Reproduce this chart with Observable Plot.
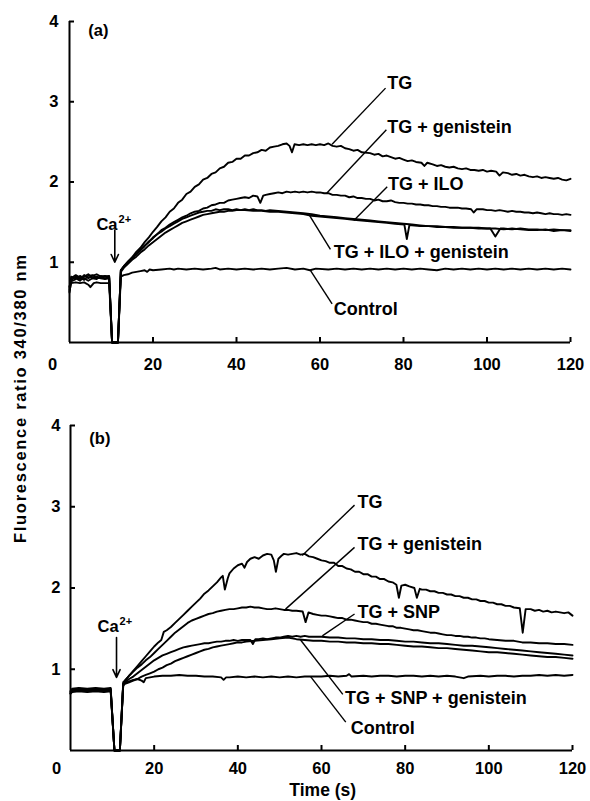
<!DOCTYPE html>
<html><head><meta charset="utf-8">
<script src="https://cdn.jsdelivr.net/npm/d3@7"></script>
<script src="https://cdn.jsdelivr.net/npm/@observablehq/plot@0.6"></script>
<style>
body{margin:0;background:#fff;}
#wrap{position:relative;width:590px;height:801px;overflow:hidden;background:#fff;}
#wrap > svg{display:block;}
</style></head><body><div id="wrap"></div>
<script>
// ---------- Panel (a) data: [time (s), fluorescence ratio] ----------
const aTG = [[0,0.62],[0.4,0.78],[1.5,0.82],[2.5,0.79],[3.5,0.84],[4.5,0.8],[5.5,0.83],[6.5,0.85],[7.5,0.82],[8.5,0.83],[9.5,0.82],[10.2,0],[11.6,0],[12.3,0.9],[13,0.95],[14,1.01],[15,1.06],[16,1.13],[17,1.18],[18,1.25],[19,1.31],[20,1.38],[21,1.44],[22,1.51],[23,1.56],[24,1.63],[25,1.67],[26,1.74],[27,1.78],[28,1.85],[29,1.88],[30,1.94],[31,1.97],[32,2.03],[33,2.05],[34,2.1],[35,2.12],[36,2.17],[37,2.19],[38,2.24],[39,2.25],[40,2.29],[41,2.29],[42,2.33],[43,2.33],[44,2.36],[45,2.37],[46,2.4],[47,2.39],[48,2.43],[49,2.44],[50,2.45],[51,2.47],[52,2.48],[52.7,2.45],[53.3,2.37],[53.9,2.47],[55,2.46],[56,2.47],[57,2.46],[58,2.47],[59,2.46],[60,2.47],[61,2.46],[62,2.48],[63,2.45],[64,2.44],[65,2.45],[66,2.42],[67,2.41],[68,2.39],[69,2.4],[70,2.37],[72,2.36],[73,2.34],[74,2.35],[75,2.32],[76,2.33],[77,2.31],[78,2.29],[79,2.3],[80,2.28],[81,2.26],[82,2.27],[83,2.25],[84.3,2.24],[85,2.2],[85.7,2.24],[87,2.22],[88,2.2],[89,2.21],[90,2.19],[91,2.18],[92,2.19],[93,2.17],[94,2.16],[95,2.17],[96,2.15],[97,2.15],[98,2.14],[99,2.15],[100,2.13],[101,2.14],[102.2,2.13],[103,2.08],[103.8,2.12],[105,2.11],[106,2.09],[107,2.1],[108,2.08],[109,2.09],[110,2.07],[111,2.06],[112,2.07],[113,2.05],[114,2.06],[115,2.05],[116,2.04],[117,2.05],[118,2.03],[119,2.02],[120,2.04]];
const aTGgen = [[0,0.66],[0.4,0.8],[1.5,0.84],[2.5,0.81],[3.5,0.78],[4.5,0.83],[5.5,0.84],[6.5,0.8],[7.5,0.81],[8.5,0.8],[9.5,0.81],[10.2,0],[11.6,0],[12.3,0.9],[13,0.94],[14,0.99],[15,1.05],[16,1.1],[17,1.16],[18,1.21],[19,1.25],[20,1.31],[21,1.35],[22,1.4],[23,1.43],[24,1.47],[25,1.5],[26,1.53],[27,1.56],[28,1.58],[29,1.61],[30,1.63],[31,1.64],[32,1.67],[33,1.68],[34,1.71],[35,1.72],[36,1.74],[37,1.74],[38,1.77],[39,1.78],[40,1.79],[41,1.8],[42,1.81],[43,1.8],[44,1.83],[45,1.82],[45.7,1.74],[46.4,1.83],[47,1.84],[48,1.85],[49,1.86],[50,1.87],[51,1.86],[52,1.88],[53,1.87],[54,1.88],[55,1.87],[56,1.88],[57,1.87],[58,1.88],[59,1.87],[60,1.87],[61,1.86],[62,1.86],[63,1.84],[64,1.84],[65,1.83],[66,1.83],[67,1.81],[68,1.82],[69,1.8],[70,1.8],[71,1.79],[72,1.79],[73,1.77],[74,1.78],[75,1.76],[76,1.76],[77,1.77],[78,1.75],[79,1.74],[80,1.74],[81,1.73],[82,1.73],[83,1.72],[84,1.72],[85,1.71],[86,1.71],[87,1.7],[88,1.7],[89,1.69],[90,1.69],[91,1.68],[92,1.68],[93,1.68],[94,1.67],[95,1.67],[96.2,1.66],[96.8,1.62],[97.5,1.66],[99,1.66],[100,1.65],[101,1.65],[102,1.64],[103,1.65],[104,1.64],[105,1.63],[106,1.64],[107,1.63],[108,1.63],[109,1.62],[110,1.62],[111,1.61],[112,1.62],[113,1.61],[114,1.6],[115,1.61],[116,1.6],[117,1.6],[118,1.59],[119,1.6],[120,1.59]];
const aILO = [[0,0.7],[0.4,0.76],[1.5,0.79],[2.5,0.83],[3.5,0.8],[4.5,0.77],[5.5,0.8],[6.5,0.82],[7.5,0.8],[8.5,0.79],[9.5,0.8],[10.2,0],[11.6,0],[12.3,0.88],[13,0.93],[14,0.98],[15,1.03],[16,1.07],[17,1.12],[18,1.16],[19,1.21],[20,1.25],[21,1.29],[22,1.33],[23,1.37],[24,1.4],[25,1.43],[26,1.46],[27,1.49],[28,1.51],[29,1.53],[30,1.55],[31,1.57],[32,1.59],[33,1.6],[34,1.61],[35,1.62],[36,1.63],[37,1.63],[38,1.64],[39,1.64],[40,1.65],[42,1.65],[44,1.64],[46,1.64],[48,1.63],[50,1.63],[52,1.62],[54,1.61],[56,1.6],[58,1.58],[60,1.57],[62,1.56],[64,1.55],[66,1.54],[68,1.53],[70,1.52],[72,1.51],[74,1.5],[76,1.49],[78,1.48],[80.2,1.47],[80.8,1.29],[81.4,1.46],[82,1.46],[84,1.45],[86,1.45],[88,1.44],[90,1.44],[92,1.43],[94,1.43],[96,1.43],[98,1.42],[100.8,1.42],[102,1.32],[103.2,1.42],[104,1.42],[106,1.41],[108,1.42],[110,1.41],[112,1.41],[114,1.4],[116,1.41],[118,1.4],[120,1.4]];
const aILOgen = [[0,0.68],[0.4,0.82],[1.5,0.8],[2.5,0.77],[3.5,0.82],[4.5,0.85],[5.5,0.8],[6.5,0.79],[7.5,0.83],[8.5,0.82],[9.5,0.83],[10.2,0],[11.6,0],[12.3,0.9],[13,0.95],[14,1.0],[15,1.06],[16,1.1],[17,1.15],[18,1.2],[19,1.26],[20,1.3],[21,1.35],[22,1.38],[23,1.42],[24,1.45],[25,1.48],[26,1.51],[27,1.54],[28,1.56],[29,1.58],[30,1.6],[31,1.62],[32,1.63],[33,1.64],[34,1.64],[35,1.66],[36,1.65],[37,1.66],[38,1.66],[39,1.65],[40,1.66],[41,1.65],[42,1.66],[43,1.65],[44,1.66],[45,1.65],[46,1.65],[47,1.64],[48,1.65],[50,1.64],[52,1.63],[54,1.62],[56,1.61],[58,1.6],[60,1.58],[62,1.57],[64,1.56],[66,1.55],[68,1.54],[70,1.53],[72,1.52],[74,1.51],[76,1.5],[78,1.49],[80,1.48],[82,1.47],[84,1.46],[86,1.45],[88,1.45],[90,1.44],[92,1.44],[94,1.43],[96,1.43],[98,1.43],[100,1.42],[102,1.42],[104,1.41],[106,1.42],[108,1.41],[110,1.4],[112,1.4],[114,1.41],[116,1.39],[118,1.4],[120,1.39]];
const aCtrl = [[0,0.64],[0.4,0.74],[1.5,0.75],[2.5,0.74],[3.5,0.75],[4.5,0.72],[5,0.69],[5.8,0.74],[6.5,0.75],[7.5,0.74],[8.5,0.74],[9.5,0.74],[10.2,0],[11.6,0],[12.3,0.82],[13,0.84],[14,0.85],[15,0.87],[16,0.88],[17,0.89],[18,0.9],[18.6,0.88],[19.2,0.91],[20,0.9],[22,0.91],[24,0.92],[25,0.91],[26,0.92],[28,0.91],[30,0.92],[32,0.91],[34,0.92],[35,0.93],[36,0.91],[38,0.92],[40,0.91],[42,0.92],[44,0.91],[46,0.92],[48,0.91],[50,0.92],[52,0.93],[54,0.91],[56,0.92],[57.6,0.9],[59,0.92],[62,0.91],[64,0.92],[66,0.91],[68,0.92],[70,0.91],[72,0.92],[74,0.91],[76,0.92],[78,0.91],[80,0.92],[82,0.91],[84,0.92],[86,0.91],[88,0.9],[90,0.92],[92,0.91],[94,0.92],[96,0.91],[98,0.92],[100,0.91],[102,0.92],[104,0.91],[106,0.92],[108,0.91],[110,0.92],[112,0.91],[114,0.92],[116,0.91],[118,0.92],[120,0.91]];

// ---------- Panel (b) data ----------
const bTG = [[0,0.7],[0.4,0.75],[2,0.76],[4,0.75],[6,0.76],[8,0.75],[9.6,0.76],[10.5,0],[11.8,0],[12.6,0.82],[13,0.86],[14,0.92],[15,0.98],[16,1.04],[17,1.1],[18,1.16],[19,1.22],[20,1.28],[21,1.33],[21.7,1.36],[22.3,1.46],[23,1.48],[24,1.52],[25,1.57],[26,1.62],[27,1.67],[28,1.72],[29,1.77],[30,1.82],[31,1.87],[32,1.93],[33,1.97],[34,2.02],[35,2.07],[36,2.13],[36.4,2.15],[36.9,1.98],[37.6,2.12],[38,2.18],[39,2.24],[40,2.28],[41,2.3],[41.6,2.25],[42.2,2.32],[43,2.36],[44,2.38],[45,2.36],[46,2.4],[47,2.42],[48,2.41],[48.6,2.34],[49.1,2.2],[49.7,2.36],[50.5,2.4],[51,2.42],[52,2.41],[53,2.42],[54,2.43],[55,2.41],[56,2.42],[57,2.39],[58,2.38],[59,2.36],[60,2.34],[61,2.33],[62,2.31],[63,2.31],[64,2.27],[65,2.27],[66,2.24],[67,2.23],[68,2.2],[69,2.2],[70,2.17],[71,2.17],[72,2.14],[73,2.14],[74,2.11],[75,2.11],[76,2.08],[77,2.07],[77.9,2.04],[78.5,1.88],[79.1,2.03],[80,2.04],[81,2.02],[82.2,2.0],[82.8,1.88],[83.5,1.99],[84,1.98],[85,1.98],[86,1.96],[87,1.96],[88,1.94],[89,1.94],[90,1.92],[91,1.92],[92,1.9],[93,1.9],[94,1.88],[95,1.88],[96,1.86],[97,1.86],[98,1.84],[99,1.84],[100,1.82],[101,1.82],[102,1.8],[103,1.8],[104,1.78],[105,1.78],[106,1.76],[107.4,1.75],[108.1,1.45],[108.8,1.74],[110,1.74],[111,1.72],[112,1.73],[113,1.71],[114,1.72],[115,1.7],[116,1.71],[117,1.7],[118,1.69],[119,1.7],[120,1.66]];
const bTGgen = [[0,0.72],[0.4,0.76],[2,0.77],[4,0.76],[6,0.77],[8,0.76],[9.6,0.77],[10.5,0],[11.8,0],[12.6,0.84],[13,0.86],[14,0.92],[15,0.97],[16,1.02],[17,1.06],[18,1.11],[19,1.15],[20,1.2],[21,1.25],[22,1.3],[23,1.35],[24,1.4],[25,1.45],[26,1.49],[27,1.53],[28,1.57],[29,1.6],[30,1.62],[31,1.64],[32,1.66],[33,1.68],[34,1.69],[35,1.71],[36,1.72],[37,1.73],[38,1.74],[39,1.74],[40,1.75],[41,1.76],[42,1.76],[43,1.77],[44,1.76],[45,1.76],[46,1.75],[47,1.74],[48,1.74],[49,1.75],[50,1.74],[51,1.73],[52,1.73],[53,1.72],[54,1.72],[55.5,1.71],[56.2,1.58],[56.9,1.7],[58,1.68],[59,1.67],[60,1.66],[61,1.66],[62,1.65],[63,1.64],[64,1.63],[65,1.63],[66,1.61],[67,1.61],[68,1.6],[69,1.59],[70,1.58],[71,1.58],[72,1.56],[73,1.56],[74,1.55],[75,1.54],[76,1.53],[77,1.53],[78,1.51],[79,1.51],[80,1.5],[81,1.49],[82,1.48],[83,1.48],[84,1.47],[85,1.46],[86,1.45],[87,1.45],[88,1.44],[89,1.43],[90,1.42],[91,1.42],[92,1.41],[93,1.41],[94,1.4],[95,1.4],[96,1.39],[97,1.39],[98,1.38],[99,1.38],[100,1.37],[102,1.36],[104,1.35],[106,1.35],[108,1.33],[110,1.33],[112,1.32],[114,1.32],[116,1.31],[118,1.31],[120,1.3]];
const bSNP = [[0,0.73],[0.4,0.74],[2,0.75],[4,0.74],[6,0.75],[8,0.74],[9.6,0.75],[10.5,0],[11.8,0],[12.6,0.82],[13,0.84],[14,0.88],[15,0.91],[16,0.95],[17,0.99],[18,1.03],[19,1.07],[20,1.11],[21,1.14],[22,1.17],[23,1.19],[24,1.21],[25,1.23],[26,1.25],[27,1.27],[28,1.28],[29,1.29],[30,1.3],[31,1.31],[32,1.32],[33,1.32],[34,1.33],[35,1.34],[36,1.34],[37,1.35],[38,1.35],[39,1.36],[40,1.35],[41,1.36],[42,1.36],[43,1.36],[43.6,1.31],[44.2,1.37],[45,1.37],[46,1.38],[47,1.37],[48,1.38],[49,1.39],[50,1.39],[51,1.4],[52,1.41],[53,1.4],[54,1.41],[55,1.4],[56,1.41],[57,1.4],[58,1.4],[60,1.4],[62,1.39],[64,1.39],[66,1.38],[68,1.38],[70,1.37],[72,1.37],[74,1.36],[76,1.36],[78,1.35],[80,1.34],[82,1.34],[84,1.33],[86,1.32],[88,1.32],[90,1.31],[92,1.3],[94,1.29],[96,1.29],[98,1.28],[100,1.27],[102,1.26],[104,1.25],[106,1.24],[108,1.23],[110,1.22],[112,1.21],[114,1.2],[116,1.19],[118,1.18],[120,1.17]];
const bSNPgen = [[0,0.71],[0.4,0.73],[2,0.74],[4,0.73],[6,0.74],[8,0.73],[9.6,0.74],[10.5,0],[11.8,0],[12.6,0.8],[13,0.82],[14,0.84],[15,0.86],[16,0.88],[17,0.91],[18,0.93],[19,0.95],[20,0.97],[21,1.0],[22,1.02],[23,1.05],[24,1.07],[25,1.1],[26,1.12],[27,1.14],[28,1.16],[29,1.18],[30,1.2],[31,1.22],[32,1.24],[33,1.25],[34,1.27],[35,1.28],[36,1.29],[37,1.3],[38,1.31],[39,1.32],[40,1.33],[41,1.33],[42,1.34],[44,1.35],[46,1.36],[48,1.37],[50,1.38],[52,1.39],[53,1.38],[54,1.37],[56,1.36],[58,1.35],[60,1.35],[62,1.34],[64,1.34],[66,1.33],[68,1.33],[70,1.32],[72,1.32],[74,1.31],[76,1.31],[78,1.3],[80,1.29],[82,1.28],[84,1.28],[86,1.27],[88,1.26],[90,1.26],[92,1.25],[94,1.24],[96,1.23],[98,1.22],[100,1.21],[102,1.21],[104,1.2],[106,1.19],[108,1.18],[110,1.17],[112,1.16],[114,1.15],[116,1.15],[118,1.14],[120,1.13]];
const bCtrl = [[0,0.7],[0.4,0.72],[2,0.73],[4,0.72],[6,0.73],[8,0.72],[9.6,0.73],[10.5,0],[11.8,0],[12.6,0.8],[13,0.83],[14,0.85],[15,0.87],[16,0.88],[17,0.86],[17.5,0.84],[18,0.89],[19,0.9],[20,0.91],[22,0.92],[24,0.92],[26,0.93],[28,0.92],[30,0.92],[32,0.91],[34,0.91],[36,0.9],[36.6,0.87],[37.2,0.9],[38,0.9],[40,0.91],[42,0.9],[44,0.91],[46,0.9],[48,0.91],[50,0.9],[52,0.91],[54,0.9],[56,0.91],[58,0.91],[60,0.91],[62,0.92],[64,0.91],[66,0.92],[66.6,0.94],[67.2,0.91],[70,0.92],[72,0.91],[74,0.92],[76,0.92],[78,0.91],[80,0.92],[82,0.92],[84,0.91],[86,0.92],[88,0.91],[90,0.92],[92,0.91],[94,0.89],[95,0.91],[98,0.92],[100,0.91],[102,0.92],[104,0.92],[106,0.91],[108,0.92],[110,0.92],[112,0.93],[114,0.92],[116,0.93],[118,0.92],[120,0.93]];

// ---------- Labels and annotations (data units) ----------
const xTicks = [0, 20, 40, 60, 80, 100, 120];
const yTicks = [1, 2, 3, 4];
const aNames = ["TG", "TG + genistein", "TG + ILO", "TG + ILO + genistein", "Control"];
const bNames = ["TG", "TG + genistein", "TG + SNP", "TG + SNP + genistein", "Control"];
// label anchor [t, ratio] and leader line [t1, r1, t2, r2]
const aLabelPos = [[76.1, 3.23], [76.1, 2.68], [76.3, 1.97], [63.3, 1.13], [63.3, 0.42]];
const aLeaders = [[75.7, 3.17, 62.9, 2.47], [75.9, 2.65, 61.6, 1.86], [76.1, 1.94, 68.1, 1.52], [62.5, 1.16, 57.3, 1.60], [62.9, 0.48, 57.7, 0.90]];
const bLabelPos = [[68.6, 3.06], [68.6, 2.54], [68.6, 1.70], [65.6, 0.64], [67.0, 0.27]];
const bLeaders = [[67.9, 3.02, 55.4, 2.40], [67.9, 2.50, 51.4, 1.74], [67.9, 1.68, 60.2, 1.41], [65.1, 0.69, 55.0, 1.36], [65.8, 0.35, 57.4, 0.91]];

const FONT = "'Liberation Sans', Arial, Helvetica, sans-serif";

function panel(o) {
  const rows = o.series.flatMap((s, i) => s.map(([t, v]) => ({k: o.names[i], t, v})));
  const labels = o.names.map((n, i) => ({n, t: o.labelPos[i][0], v: o.labelPos[i][1]}));
  const leaders = o.leaders.map(([t1, v1, t2, v2]) => ({t1, v1, t2, v2}));
  const axisStyle = {fontSize: 16.5, fontWeight: "bold", strokeWidth: 2, label: null, tickFormat: d => String(d)};
  return Plot.plot({
    width: 590, height: o.height,
    marginLeft: o.ml, marginRight: o.mr, marginTop: o.mt, marginBottom: o.mb,
    x: {domain: [0, 120]},
    y: {domain: [0, 4]},
    style: {fontFamily: FONT, color: "#000", background: "#fff"},
    marks: [
      Plot.line(rows, {x: "t", y: "v", z: "k", stroke: "#000", strokeWidth: 1.9, strokeLinejoin: "round"}),
      Plot.ruleX([0], {y1: 0, y2: 4, strokeWidth: 2}),
      Plot.ruleY([0], {x1: 0, x2: 120, strokeWidth: 2}),
      Plot.axisY(yTicks, {...axisStyle, tickSize: -5, tickPadding: o.yPad}),
      Plot.axisX(xTicks.filter(d => d > 0), {...axisStyle, tickSize: -5, tickPadding: o.xPad}),
      Plot.axisX(xTicks.filter(d => d === 0), {...axisStyle, tickSize: 0, tickPadding: o.xPad - 5, dx: o.zeroDx}),
      Plot.link(leaders, {x1: "t1", y1: "v1", x2: "t2", y2: "v2", stroke: "#000", strokeWidth: 1.4}),
      Plot.text(labels, {x: "t", y: "v", text: "n", textAnchor: "start", lineAnchor: "middle", fontSize: 18, fontWeight: "bold"}),
      Plot.arrow([o.arrow], {x1: "t", x2: "t", y1: "from", y2: "to", stroke: "#000", strokeWidth: 1.6, headLength: 8, headAngle: 50}),
      Plot.text([o.ca], {x: "t", y: "v", text: () => "Ca", textAnchor: "end", lineAnchor: "bottom", fontSize: 16.5, fontWeight: "bold"}),
      Plot.text([o.ca], {x: "t", y: "v", text: () => "2+", textAnchor: "start", lineAnchor: "bottom", fontSize: 11, fontWeight: "bold", dx: 1, dy: -7}),
      Plot.text([o.tag], {x: "t", y: "v", text: "s", textAnchor: "start", lineAnchor: "middle", fontSize: 16.5, fontWeight: "bold"}),
      ...(o.xLabel ? [Plot.text([o.xLabel], {x: "t", text: "s", frameAnchor: "bottom", lineAnchor: "middle", dy: 40, fontSize: 17.5, fontWeight: "bold"})] : [])
    ]
  });
}

const wrap = document.getElementById("wrap");
wrap.append(panel({
  series: [aTG, aTGgen, aILO, aILOgen, aCtrl], names: aNames,
  labelPos: aLabelPos, leaders: aLeaders,
  height: 400, ml: 69, mr: 20, mt: 21, mb: 58, xPad: 21, yPad: 16, zeroDx: -17,
  arrow: {t: 10.85, from: 1.40, to: 1.0},
  ca: {t: 11.5, v: 1.40},
  tag: {t: 4.5, v: 3.89, s: "(a)"}
}));
wrap.append(panel({
  series: [bTG, bTGgen, bSNP, bSNPgen, bCtrl], names: bNames,
  labelPos: bLabelPos, leaders: bLeaders,
  height: 401, ml: 70, mr: 18, mt: 25, mb: 51, xPad: 17, yPad: 15, zeroDx: -14,
  arrow: {t: 11.0, from: 1.39, to: 0.90},
  ca: {t: 11.5, v: 1.46},
  tag: {t: 4.5, v: 3.84, s: "(b)"},
  xLabel: {t: 60.3, s: "Time (s)"}
}));

// shared y-axis title spanning both panels
const overlay = d3.select(wrap).append("svg")
  .attr("width", 590).attr("height", 801)
  .style("position", "absolute").style("left", "0px").style("top", "0px")
  .style("pointer-events", "none");
overlay.append("text")
  .attr("transform", "translate(20,399) rotate(-90)")
  .attr("text-anchor", "middle")
  .attr("dominant-baseline", "central")
  .attr("textLength", 288).attr("lengthAdjust", "spacing")
  .style("font-family", FONT).style("font-size", "16.5px").style("font-weight", "bold")
  .text("Fluorescence ratio 340/380 nm");
</script>
</body></html>
